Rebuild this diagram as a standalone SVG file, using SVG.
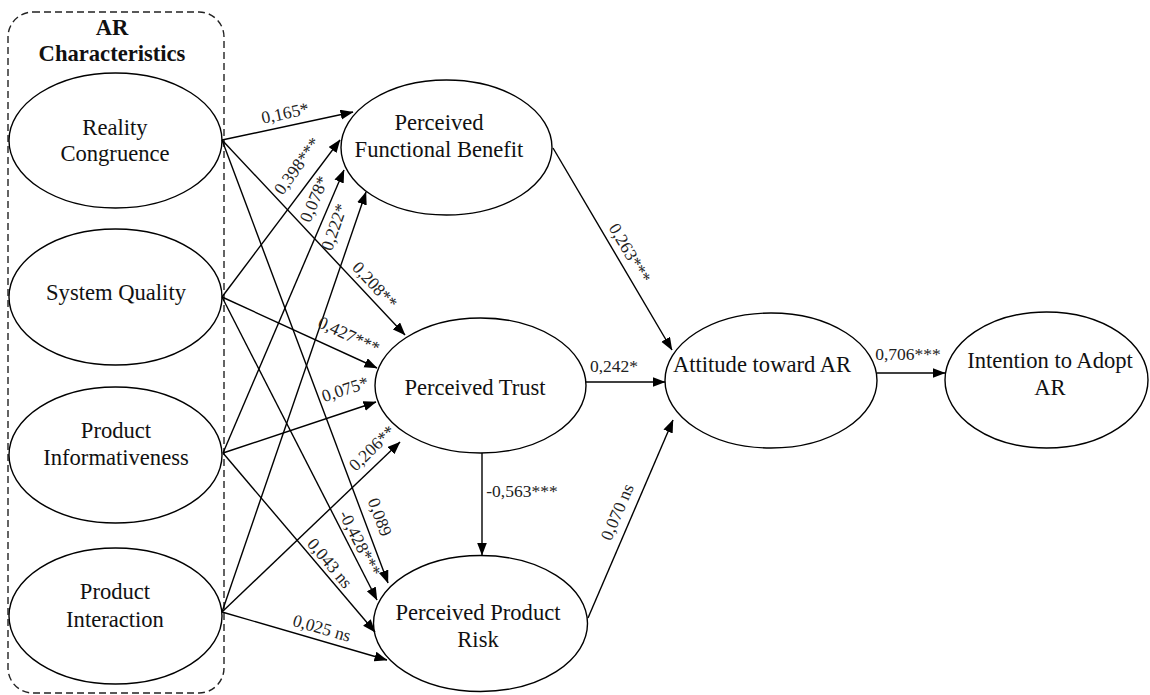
<svg xmlns="http://www.w3.org/2000/svg" width="1150" height="695" viewBox="0 0 1150 695">
<style>
.node ellipse{fill:#fff;stroke:#000;stroke-width:1.4}
.nl{font-family:"Liberation Serif","Times New Roman",serif;font-size:22.6px;fill:#111;text-anchor:middle}
.el{font-family:"Liberation Serif","Times New Roman",serif;font-size:17.5px;fill:#222;text-anchor:middle;dominant-baseline:central}
.e{stroke:#000;stroke-width:1.4;fill:none;marker-end:url(#ah)}
.grp{fill:none;stroke:#222;stroke-width:1.4;stroke-dasharray:7 4}
.gl{font-family:"Liberation Serif","Times New Roman",serif;font-size:22.6px;font-weight:bold;fill:#111;text-anchor:middle}
</style>
<defs>
<marker id="ah" markerUnits="userSpaceOnUse" markerWidth="13" markerHeight="11" refX="12.5" refY="5" orient="auto">
<path d="M0,0 L13,5 L0,10 z" fill="#000"/>
</marker>
</defs>
<rect width="1150" height="695" fill="#fff"/>
<g id="ar-characteristics">
<rect class="grp" x="8" y="12" width="216" height="681" rx="25" ry="25"/>
<text class="gl" x="112" y="35">AR</text>
<text class="gl" x="112" y="61">Characteristics</text>
</g>
<g id="reality-congruence" class="node">
<ellipse cx="115.5" cy="140.5" rx="106.5" ry="67.5"/>
<text class="nl" x="115" y="135">Reality</text>
<text class="nl" x="115" y="161">Congruence</text>
</g>
<g id="system-quality" class="node">
<ellipse cx="115.5" cy="297" rx="106.5" ry="68"/>
<text class="nl" x="116" y="300">System Quality</text>
</g>
<g id="product-informativeness" class="node">
<ellipse cx="115.5" cy="455" rx="106.5" ry="68"/>
<text class="nl" x="116" y="438">Product</text>
<text class="nl" x="116" y="465">Informativeness</text>
</g>
<g id="product-interaction" class="node">
<ellipse cx="115.5" cy="616" rx="106.5" ry="68"/>
<text class="nl" x="115" y="599">Product</text>
<text class="nl" x="115" y="627">Interaction</text>
</g>
<g id="perceived-functional-benefit" class="node">
<ellipse cx="446.5" cy="147.5" rx="105.5" ry="67.5"/>
<text class="nl" x="439" y="130">Perceived</text>
<text class="nl" x="439" y="157">Functional Benefit</text>
</g>
<g id="perceived-trust" class="node">
<ellipse cx="480.5" cy="385.5" rx="105.5" ry="67.5"/>
<text class="nl" x="475" y="395">Perceived Trust</text>
</g>
<g id="perceived-product-risk" class="node">
<ellipse cx="480.5" cy="623.5" rx="107" ry="68"/>
<text class="nl" x="478" y="620">Perceived Product</text>
<text class="nl" x="478" y="647">Risk</text>
</g>
<g id="attitude-toward-ar" class="node">
<ellipse cx="771" cy="380.5" rx="106" ry="67.5"/>
<text class="nl" x="762" y="372">Attitude toward AR</text>
</g>
<g id="intention-to-adopt-ar" class="node">
<ellipse cx="1046.5" cy="380" rx="101.5" ry="68"/>
<text class="nl" x="1050" y="368">Intention to Adopt</text>
<text class="nl" x="1050" y="395">AR</text>
</g>
<g id="connectors">
<line class="e" x1="222" y1="140" x2="353" y2="112"/>
<line class="e" x1="222" y1="297" x2="340" y2="140"/>
<line class="e" x1="223" y1="453" x2="344" y2="170"/>
<line class="e" x1="222" y1="612" x2="366" y2="192"/>
<line class="e" x1="222" y1="140" x2="405" y2="335"/>
<line class="e" x1="222" y1="297" x2="377" y2="368"/>
<line class="e" x1="223" y1="453" x2="376" y2="402"/>
<line class="e" x1="222" y1="612" x2="400" y2="442"/>
<line class="e" x1="222" y1="140" x2="388" y2="583"/>
<line class="e" x1="222" y1="297" x2="377" y2="600"/>
<line class="e" x1="223" y1="453" x2="375" y2="632"/>
<line class="e" x1="222" y1="612" x2="387" y2="660"/>
<line class="e" x1="553" y1="148" x2="672" y2="350"/>
<line class="e" x1="586" y1="382" x2="665" y2="382"/>
<line class="e" x1="588" y1="618" x2="673" y2="420"/>
<line class="e" x1="482" y1="453" x2="482" y2="555"/>
<line class="e" x1="877" y1="373" x2="945" y2="373"/>
<g id="connector-labels">
<text class="el" transform="translate(285,113) rotate(-12)">0,165*</text>
<text class="el" transform="translate(297,166) rotate(-54)">0,398***</text>
<text class="el" transform="translate(314,199) rotate(-67)">0,078*</text>
<text class="el" transform="translate(334,227) rotate(-71)">0,222*</text>
<text class="el" transform="translate(375,285) rotate(47)">0,208**</text>
<text class="el" transform="translate(349,335) rotate(25)">0,427***</text>
<text class="el" transform="translate(345,389) rotate(-18)">0,075*</text>
<text class="el" transform="translate(372,448) rotate(-44)">0,206**</text>
<text class="el" transform="translate(380,517) rotate(69.5)">0,089</text>
<text class="el" transform="translate(360,543) rotate(63)">-0,428***</text>
<text class="el" transform="translate(330,563) rotate(50)">0,043 ns</text>
<text class="el" transform="translate(322,628) rotate(16)">0,025 ns</text>
<text class="el" transform="translate(630,253) rotate(59.5)">0,263***</text>
<text class="el" transform="translate(617,512) rotate(-67)">0,070 ns</text>
<text class="el" x="614" y="366">0,242*</text>
<text class="el" x="522" y="491">-0,563***</text>
<text class="el" x="908" y="354">0,706***</text>
</g>
</g>
</svg>
